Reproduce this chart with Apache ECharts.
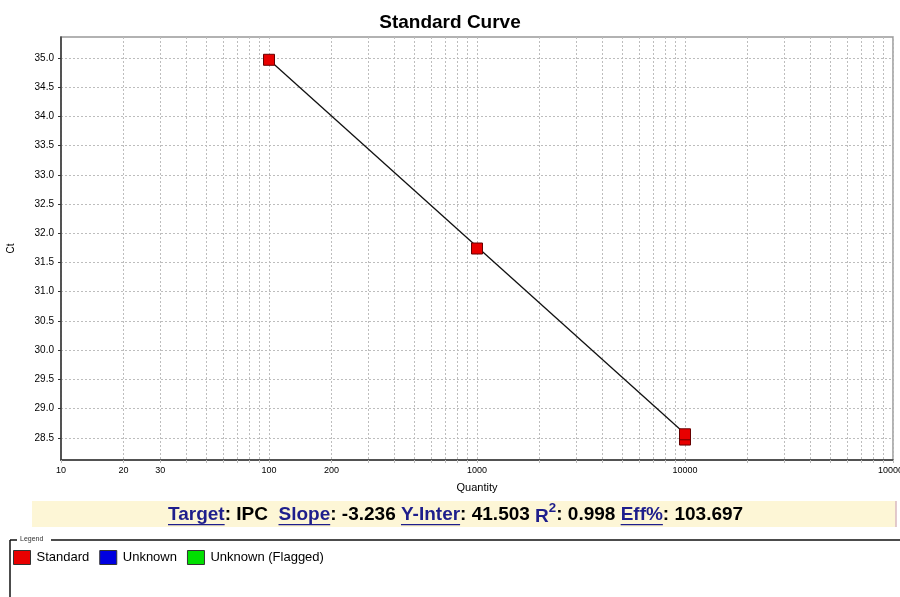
<!DOCTYPE html>
<html>
<head>
<meta charset="utf-8">
<script src="https://cdn.jsdelivr.net/npm/echarts@6/dist/echarts.min.js"></script>
<style>html,body{margin:0;padding:0;background:#fff}#c{width:900px;height:597px}</style>
</head>
<body>
<div id="c"></div>
<script>
// ---- data ----
const standardQty = [100, 1000, 10000, 10000];
const standardCt = [34.97, 31.74, 28.47, 28.56];
const fitQty = [100, 10000];
const fitCt = [34.97, 28.57];
const yTickLabels = [28.5, 29.0, 29.5, 30.0, 30.5, 31.0, 31.5, 32.0, 32.5, 33.0, 33.5, 34.0, 34.5, 35.0];
const xTickLabels = [10, 20, 30, 100, 200, 1000, 10000, 100000];
const xGridValues = [10,20,30,40,50,60,70,80,90,100,200,300,400,500,600,700,800,900,1000,2000,3000,4000,5000,6000,7000,8000,9000,10000,20000,30000,40000,50000,60000,70000,80000,90000,100000];
const legendNames = ['Standard', 'Unknown', 'Unknown (Flagged)'];
const legendColors = ['#e80000', '#0000e0', '#00e000'];
const infoLabels = ['Target', 'Slope', 'Y-Inter', 'R', 'Eff%'];
const infoValues = ['IPC', '-3.236', '41.503', '0.998', '103.697'];

const chart = echarts.init(document.getElementById('c'), null, {renderer: 'canvas'});

// build info bar text pieces
const FONT_FAMILY = '"Liberation Sans", Arial, sans-serif';
const cv = document.createElement('canvas').getContext('2d');
function measure(t, size) { cv.font = 'bold ' + size + 'px ' + FONT_FAMILY; return cv.measureText(t).width; }
const pieces = [
  {t: infoLabels[0], link: true}, {t: ': ' + infoValues[0] + '  '},
  {t: infoLabels[1], link: true}, {t: ': ' + infoValues[1] + ' '},
  {t: infoLabels[2], link: true}, {t: ': ' + infoValues[2] + ' '},
  {t: infoLabels[3], dark: true}, {t: '2', sup: true, dark: true}, {t: ': ' + infoValues[3] + ' '},
  {t: infoLabels[4], link: true}, {t: ': ' + infoValues[4]}
];
let baseSize = 16;
let total = 0;
pieces.forEach(p => { total += measure(p.t, p.sup ? baseSize * 0.7 : baseSize); });
const targetW = 595;
const fs = Math.max(13, Math.min(19, baseSize * targetW / total));
let x = 168;
const infoY = 516;
const infoGraphics = [];
pieces.forEach(p => {
  const size = p.sup ? fs * 0.7 : fs;
  const w = measure(p.t, size);
  infoGraphics.push({
    type: 'text', left: x, top: p.sup ? infoY - fs * 0.72 : (p.dark ? infoY - fs * 0.45 : infoY - fs * 0.55),
    style: {text: p.t, font: 'bold ' + size + 'px ' + FONT_FAMILY, fill: (p.link || p.dark) ? '#1e1e8c' : '#000'}
  });
  if (p.link) {
    infoGraphics.push({type: 'line', shape: {x1: x, y1: infoY + fs * 0.45, x2: x + w, y2: infoY + fs * 0.45}, style: {stroke: '#1e1e8c', lineWidth: 1.2}});
  }
  x += w;
});

const option = {
  animation: false,
  backgroundColor: '#fff',
  title: {
    text: 'Standard Curve', left: 'center', top: 8,
    textStyle: {fontFamily: FONT_FAMILY, fontSize: 19, fontWeight: 'bold', color: '#000'}
  },
  grid: {left: 61, right: 7, top: 37, bottom: 137, show: true, borderColor: '#999', borderWidth: 1.5, backgroundColor: '#fff', outerBoundsMode: 'none', containLabel: false},
  xAxis: {
    type: 'log', logBase: 10, min: 10, max: 100000,
    name: 'Quantity', nameLocation: 'middle', nameGap: 22,
    nameTextStyle: {fontFamily: FONT_FAMILY, fontSize: 11, color: '#000'},
    axisLine: {lineStyle: {color: '#333', width: 1.5}},
    axisTick: {show: true, length: 3, customValues: xGridValues, lineStyle: {color: '#bbb'}},
    axisLabel: {customValues: xTickLabels, fontFamily: FONT_FAMILY, fontSize: 9, color: '#000', margin: 6, formatter: v => String(v)},
    splitLine: {show: true, lineStyle: {color: '#bdbdbd', type: [2, 2], width: 1}},
    minorSplitLine: {show: false}
  },
  yAxis: {
    type: 'value', min: 28.12, max: 35.36,
    name: 'Ct', nameLocation: 'middle', nameGap: 45, nameRotate: 90,
    nameTextStyle: {fontFamily: FONT_FAMILY, fontSize: 10, color: '#000'},
    axisLine: {show: true, lineStyle: {color: '#333', width: 1.5}},
    axisTick: {show: true, length: 3, customValues: yTickLabels, lineStyle: {color: '#333'}},
    axisLabel: {customValues: yTickLabels, fontFamily: FONT_FAMILY, fontSize: 10, color: '#000', margin: 7, formatter: v => v.toFixed(1)},
    splitLine: {show: true, lineStyle: {color: '#bdbdbd', type: [2, 2], width: 1}}
  },
  legend: {
    left: 13, top: 550, padding: 0, itemWidth: 17, itemHeight: 14, itemGap: 10, icon: 'rect',
    textStyle: {fontFamily: FONT_FAMILY, fontSize: 13, color: '#000', padding: [0, 0, 0, 1]},
    data: legendNames.map((n, i) => ({name: n, itemStyle: {color: legendColors[i], borderColor: '#333', borderWidth: 1, opacity: 1}}))
  },
  series: [
    {
      name: 'fit', type: 'line', data: fitQty.map((q, i) => [q, fitCt[i]]),
      symbol: 'none', lineStyle: {color: '#111', width: 1.3}, z: 2, silent: true
    },
    {
      name: legendNames[0], type: 'scatter', symbol: 'rect', symbolSize: 11,
      data: standardQty.map((q, i) => [q, standardCt[i]]),
      itemStyle: {color: legendColors[0], borderColor: '#600', borderWidth: 1, opacity: 1}, z: 3
    },
    {name: legendNames[1], type: 'scatter', symbol: 'rect', data: [], itemStyle: {color: legendColors[1], opacity: 1}},
    {name: legendNames[2], type: 'scatter', symbol: 'rect', data: [], itemStyle: {color: legendColors[2], opacity: 1}}
  ],
  graphic: [
    {type: 'rect', shape: {x: 32, y: 501, width: 864, height: 26}, style: {fill: '#fdf6d6'}, z: 0},
    {type: 'line', shape: {x1: 896, y1: 501, x2: 896, y2: 527}, style: {stroke: '#d8b8c0', lineWidth: 1.5}},
    {type: 'line', shape: {x1: 10, y1: 540, x2: 900, y2: 540}, style: {stroke: '#111', lineWidth: 1.5}},
    {type: 'line', shape: {x1: 10, y1: 540, x2: 10, y2: 597}, style: {stroke: '#111', lineWidth: 1.5}},
    {type: 'rect', shape: {x: 17, y: 535, width: 34, height: 9}, style: {fill: '#fff'}},
    {type: 'text', left: 20, top: 536, style: {text: 'Legend', font: '7px ' + FONT_FAMILY, fill: '#333'}}
  ].concat(infoGraphics)
};
chart.setOption(option);
</script>
</body>
</html>
